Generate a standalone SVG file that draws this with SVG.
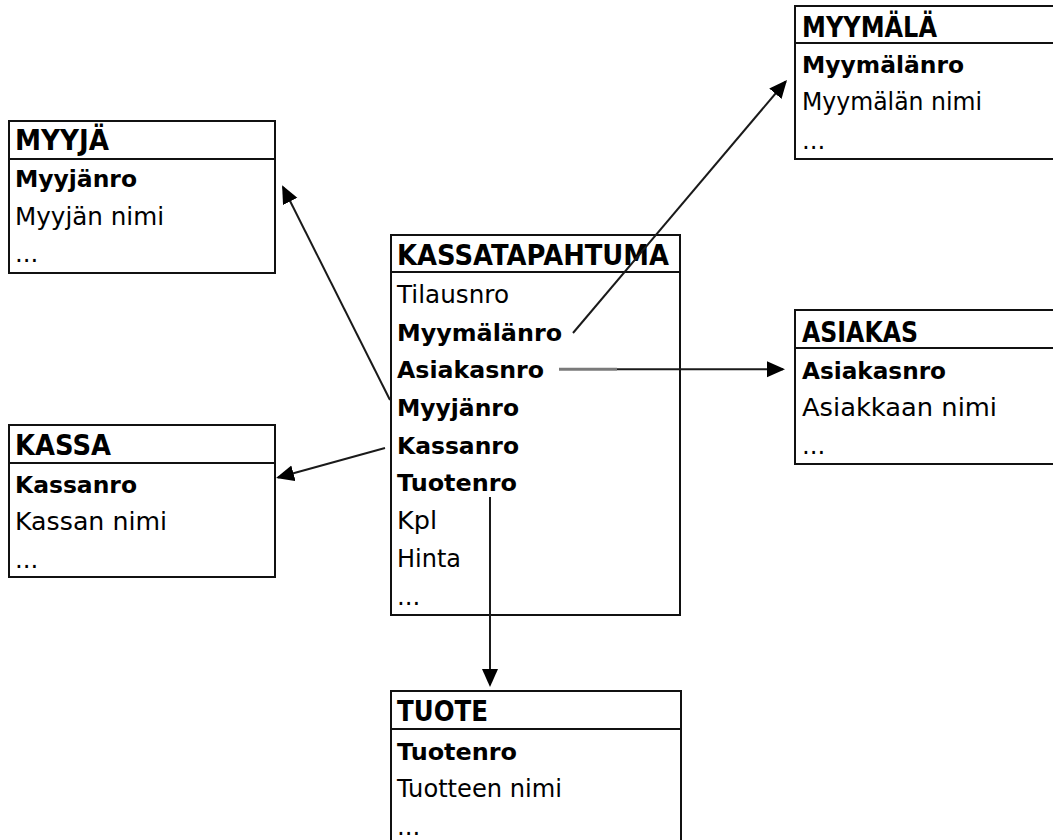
<svg xmlns="http://www.w3.org/2000/svg" width="1053" height="840" viewBox="0 0 1053 840">
  <style>
    .box { fill: #ffffff; stroke: #111111; stroke-width: 2; }
    .div { stroke: #111111; stroke-width: 2; }
    .hd { font-family: "DejaVu Sans", Verdana, sans-serif; font-weight: bold; font-size: 28px; fill: #000; }
    .key { font-family: "DejaVu Sans", Verdana, sans-serif; font-weight: bold; font-size: 23.5px; fill: #000; }
    .att { font-family: "DejaVu Sans", Verdana, sans-serif; font-size: 24.5px; fill: #000; }
    .con { fill: none; stroke: #1a1a1a; stroke-width: 2; marker-end: url(#arrow); }
  </style>
  <defs>
    <marker id="arrow" markerUnits="userSpaceOnUse" markerWidth="20" markerHeight="18" refX="16" refY="8" orient="auto">
      <path d="M0,0 L18,8 L0,16 z" fill="#000"/>
    </marker>
  </defs>
  <rect width="1053" height="840" fill="#ffffff"/>

  <!-- MYYJÄ -->
  <g id="myyja">
    <rect class="box" x="9" y="121" width="266" height="152"/>
    <line class="div" x1="9" y1="159" x2="275" y2="159"/>
    <text class="hd" x="15" y="150" textLength="94" lengthAdjust="spacingAndGlyphs">MYYJÄ</text>
    <text class="key" x="15" y="187" textLength="122" lengthAdjust="spacingAndGlyphs">Myyjänro</text>
    <text class="att" x="15" y="225" textLength="149" lengthAdjust="spacingAndGlyphs">Myyjän nimi</text>
    <text class="att" x="15" y="262">...</text>
  </g>

  <!-- KASSA -->
  <g id="kassa">
    <rect class="box" x="9" y="425" width="266" height="152"/>
    <line class="div" x1="9" y1="463" x2="275" y2="463"/>
    <text class="hd" x="15" y="455" textLength="96" lengthAdjust="spacingAndGlyphs">KASSA</text>
    <text class="key" x="15" y="493" textLength="122" lengthAdjust="spacingAndGlyphs">Kassanro</text>
    <text class="att" x="15" y="530" textLength="152" lengthAdjust="spacingAndGlyphs">Kassan nimi</text>
    <text class="att" x="15" y="568">...</text>
  </g>

  <!-- KASSATAPAHTUMA -->
  <g id="kassatapahtuma">
    <rect class="box" x="391" y="235" width="289" height="380"/>
    <line class="div" x1="391" y1="272" x2="680" y2="272"/>
    <text class="hd" x="397" y="265" textLength="272" lengthAdjust="spacingAndGlyphs">KASSATAPAHTUMA</text>
    <text class="att" x="397" y="303" textLength="112" lengthAdjust="spacingAndGlyphs">Tilausnro</text>
    <text class="key" x="397" y="340.5" textLength="165" lengthAdjust="spacingAndGlyphs">Myymälänro</text>
    <text class="key" x="397" y="378" textLength="147" lengthAdjust="spacingAndGlyphs">Asiakasnro</text>
    <text class="key" x="397" y="416" textLength="122" lengthAdjust="spacingAndGlyphs">Myyjänro</text>
    <text class="key" x="397" y="453.5" textLength="122" lengthAdjust="spacingAndGlyphs">Kassanro</text>
    <text class="key" x="397" y="491" textLength="120" lengthAdjust="spacingAndGlyphs">Tuotenro</text>
    <text class="att" x="397" y="529" textLength="40" lengthAdjust="spacingAndGlyphs">Kpl</text>
    <text class="att" x="397" y="567" textLength="64" lengthAdjust="spacingAndGlyphs">Hinta</text>
    <text class="att" x="397" y="604.5">...</text>
  </g>

  <!-- MYYMÄLÄ -->
  <g id="myymala">
    <rect class="box" x="795" y="6" width="270" height="153"/>
    <line class="div" x1="795" y1="43" x2="1065" y2="43"/>
    <text class="hd" x="802" y="36.5" textLength="135" lengthAdjust="spacingAndGlyphs">MYYMÄLÄ</text>
    <text class="key" x="802" y="73" textLength="162" lengthAdjust="spacingAndGlyphs">Myymälänro</text>
    <text class="att" x="802" y="110" textLength="180" lengthAdjust="spacingAndGlyphs">Myymälän nimi</text>
    <text class="att" x="802" y="149">...</text>
  </g>

  <!-- ASIAKAS -->
  <g id="asiakas">
    <rect class="box" x="795" y="310" width="270" height="154"/>
    <line class="div" x1="795" y1="348" x2="1065" y2="348"/>
    <text class="hd" x="802" y="341.5" textLength="116" lengthAdjust="spacingAndGlyphs">ASIAKAS</text>
    <text class="key" x="802" y="378.5" textLength="144" lengthAdjust="spacingAndGlyphs">Asiakasnro</text>
    <text class="att" x="802" y="416" textLength="195" lengthAdjust="spacingAndGlyphs">Asiakkaan nimi</text>
    <text class="att" x="802" y="454">...</text>
  </g>

  <!-- TUOTE -->
  <g id="tuote">
    <rect class="box" x="391" y="691" width="290" height="160"/>
    <line class="div" x1="391" y1="729" x2="681" y2="729"/>
    <text class="hd" x="397" y="721" textLength="91" lengthAdjust="spacingAndGlyphs">TUOTE</text>
    <text class="key" x="397" y="759.5" textLength="120" lengthAdjust="spacingAndGlyphs">Tuotenro</text>
    <text class="att" x="397" y="797" textLength="165" lengthAdjust="spacingAndGlyphs">Tuotteen nimi</text>
    <text class="att" x="397" y="835">...</text>
  </g>

  <!-- foreign key references -->
  <g id="connectors">
    <line class="con" x1="390" y1="400" x2="283" y2="187"/>
    <line class="con" x1="385" y1="448" x2="278" y2="477.5"/>
    <line class="con" x1="573" y1="333" x2="785.7" y2="81.5"/>
    <line x1="559" y1="369.3" x2="617" y2="369.3" stroke="#7a7a7a" stroke-width="3"/>
    <line class="con" x1="617" y1="369.3" x2="783" y2="369.3"/>
    <line class="con" x1="490" y1="497" x2="490" y2="685"/>
  </g>
</svg>
